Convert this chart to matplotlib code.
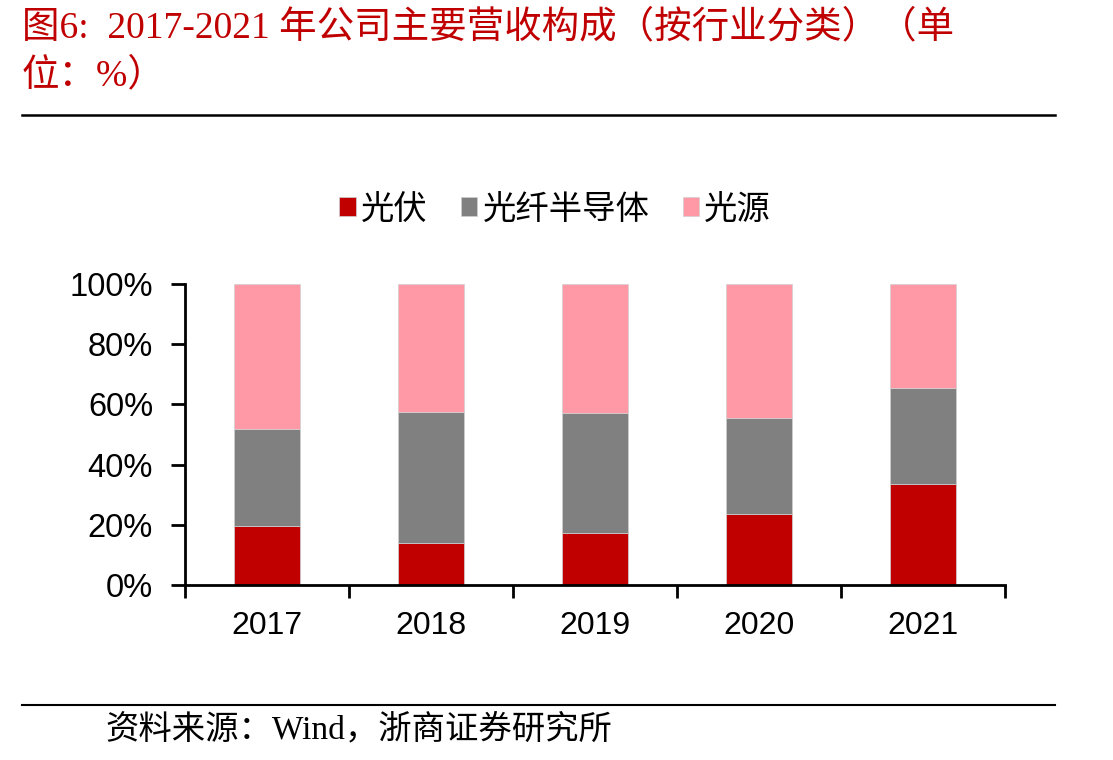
import matplotlib
matplotlib.use("Agg")
import matplotlib.pyplot as plt
from matplotlib.ticker import FuncFormatter
from matplotlib.lines import Line2D
import numpy as np

years = ["2017", "2018", "2019", "2020", "2021"]
series_names = ["光伏", "光纤半导体", "光源"]
pv = [19.5, 13.9, 17.2, 23.5, 33.5]
fiber_semi = [32.2, 43.7, 40.1, 32.1, 31.8]
light_src = [100 - a - b for a, b in zip(pv, fiber_semi)]
colors = ["#C00000", "#808080", "#FF99A5"]

plt.rcParams['font.family'] = ['Liberation Sans', 'Noto Sans CJK SC', 'DejaVu Sans']

fig = plt.figure(figsize=(11.13, 7.6), dpi=100)
W, H = 1113, 760
ax = fig.add_axes([185 / W, 1 - 585 / H, 820 / W, 301 / H])

x = np.arange(len(years))
bw = 0.40
bottom = np.zeros(len(years))
handles = []
for vals, c, name in zip([pv, fiber_semi, light_src], colors, series_names):
    b = ax.bar(x, vals, bw, bottom=bottom, color=c, edgecolor='#D0D0D0', linewidth=0.5, label=name, zorder=2)
    bottom += np.array(vals)
    handles.append(b)

ax.set_xlim(-0.5, len(years) - 0.5)
ax.set_ylim(0, 100)
ax.set_yticks(np.arange(0, 101, 20))
ax.yaxis.set_major_formatter(FuncFormatter(lambda v, p: f"{int(v)}%"))
ax.set_xticks(np.arange(-0.5, len(years), 1.0))
ax.set_xticklabels([])
ax.set_xticks(x, minor=True)
ax.set_xticklabels(years, minor=True)
ax.tick_params(axis='x', which='minor', length=0, labelsize=23, pad=19)
ax.tick_params(axis='x', which='major', direction='out', length=9, width=2)
ax.tick_params(axis='y', direction='out', length=10, width=2, labelsize=23.5, pad=13)
for s in ['top', 'right']:
    ax.spines[s].set_visible(False)
for s in ['left', 'bottom']:
    ax.spines[s].set_linewidth(2)

fig.legend(handles=handles, labels=series_names, loc='center',
           bbox_to_anchor=(555 / W, 1 - 210 / H), ncol=3, frameon=False,
           fontsize=24, handlelength=0.5, handleheight=0.5, handletextpad=0.15,
           columnspacing=1.0)

title_font = ['Liberation Serif', 'Noto Sans CJK SC', 'DejaVu Serif']
fig.text(22 / W, 1 - 28 / H, "图6:  2017-2021 年公司主要营收构成（按行业分类）（单",
         color='#C00000', fontsize=27, family=title_font, va='center', ha='left')
fig.text(22 / W, 1 - 76 / H, "位：%）",
         color='#C00000', fontsize=27, family=title_font, va='center', ha='left')
fig.add_artist(Line2D([22 / W, 1055 / W], [1 - 115 / H, 1 - 115 / H], color='black', lw=1.8))
fig.add_artist(Line2D([22 / W, 1055 / W], [1 - 705 / H, 1 - 705 / H], color='black', lw=1.5))
fig.text(105 / W, 1 - 730 / H, "资料来源：Wind，浙商证券研究所",
         color='black', fontsize=24, family=title_font, va='center', ha='left')

fig.savefig("out.png", dpi=100)
